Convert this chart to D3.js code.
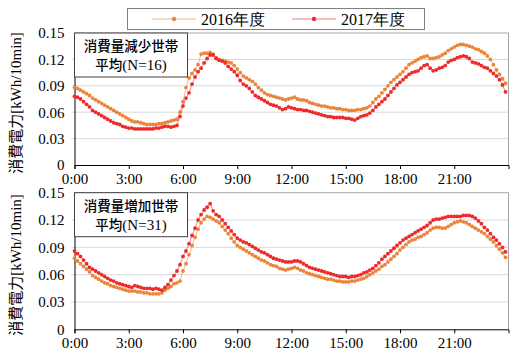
<!DOCTYPE html>
<html>
<head>
<meta charset="utf-8">
<script src="https://cdn.jsdelivr.net/npm/d3@7"></script>
<style>
  body { margin: 0; background: #fff; }
  svg { display: block; }
</style>
</head>
<body>
<div id="chart"></div>
<script>
// 10-minute steps, 0:00 .. 23:50
const seriesNames = ["2016年度", "2017年度"];
const tickLabels = ["0:00", "3:00", "6:00", "9:00", "12:00", "15:00", "18:00", "21:00"];
const yTicks = [0, 0.03, 0.06, 0.09, 0.12, 0.15];
const panelTitles = ["消費量減少世帯", "消費量増加世帯"];
const panelCounts = ["(N=16)", "(N=31)"];

// 減少世帯
const dec2016 = [
  0.088, 0.087, 0.085, 0.083, 0.081, 0.079,
  0.076, 0.074, 0.072, 0.070, 0.068, 0.066,
  0.064, 0.062, 0.060, 0.058, 0.056, 0.054,
  0.052, 0.050, 0.049, 0.049, 0.048, 0.047,
  0.046, 0.046, 0.046, 0.046, 0.047, 0.047,
  0.048, 0.049, 0.050, 0.051, 0.052, 0.060,
  0.072, 0.088, 0.099, 0.104, 0.108, 0.114,
  0.126, 0.127, 0.127, 0.128, 0.126, 0.122,
  0.120, 0.119, 0.118, 0.117, 0.116, 0.113,
  0.109, 0.105, 0.101, 0.099, 0.097, 0.095,
  0.092, 0.088, 0.085, 0.082, 0.080, 0.079,
  0.078, 0.077, 0.076, 0.075, 0.074, 0.075,
  0.076, 0.077, 0.075, 0.074, 0.074, 0.073,
  0.071, 0.070, 0.069, 0.068, 0.067, 0.067,
  0.066, 0.065, 0.065, 0.064, 0.064, 0.063,
  0.063, 0.062, 0.062, 0.062, 0.063, 0.063,
  0.064, 0.065, 0.067, 0.071, 0.075, 0.078,
  0.082, 0.086, 0.090, 0.094, 0.097, 0.100,
  0.103, 0.106, 0.110, 0.114, 0.116, 0.118,
  0.120, 0.122, 0.123, 0.124, 0.121, 0.121,
  0.122, 0.123, 0.125, 0.127, 0.130, 0.132,
  0.134, 0.136, 0.137, 0.137, 0.136, 0.135,
  0.134, 0.132, 0.131, 0.129, 0.127, 0.124,
  0.120, 0.114, 0.108, 0.103, 0.098, 0.093
];
const dec2017 = [
  0.078, 0.077, 0.075, 0.072, 0.069, 0.066,
  0.062, 0.060, 0.058, 0.056, 0.054, 0.052,
  0.050, 0.048, 0.047, 0.046, 0.044, 0.043,
  0.042, 0.042, 0.041, 0.041, 0.041, 0.041,
  0.041, 0.041, 0.041, 0.042, 0.042, 0.043,
  0.044, 0.044, 0.043, 0.044, 0.045, 0.055,
  0.067, 0.076, 0.082, 0.092, 0.100, 0.106,
  0.110, 0.116, 0.121, 0.125, 0.125, 0.121,
  0.119, 0.118, 0.116, 0.112, 0.109, 0.106,
  0.102, 0.096, 0.092, 0.090, 0.087, 0.083,
  0.079, 0.077, 0.075, 0.073, 0.071, 0.069,
  0.068, 0.067, 0.065, 0.063, 0.064, 0.066,
  0.065, 0.064, 0.063, 0.063, 0.062, 0.062,
  0.061, 0.060, 0.059, 0.058, 0.057, 0.056,
  0.055, 0.055, 0.054, 0.054, 0.054, 0.054,
  0.053, 0.053, 0.052, 0.051, 0.053, 0.055,
  0.056, 0.057, 0.059, 0.062, 0.066, 0.069,
  0.072, 0.075, 0.079, 0.083, 0.087, 0.091,
  0.094, 0.097, 0.100, 0.103, 0.105, 0.106,
  0.107, 0.110, 0.113, 0.114, 0.110, 0.107,
  0.108, 0.110, 0.111, 0.113, 0.117, 0.119,
  0.120, 0.122, 0.123, 0.124, 0.123, 0.121,
  0.117, 0.116, 0.115, 0.113, 0.111, 0.110,
  0.107, 0.104, 0.101, 0.097, 0.091, 0.083
];

// 増加世帯
const inc2016 = [
  0.078, 0.075, 0.072, 0.069, 0.066, 0.063,
  0.059, 0.057, 0.055, 0.053, 0.051, 0.050,
  0.048, 0.047, 0.046, 0.045, 0.044, 0.043,
  0.042, 0.042, 0.042, 0.041, 0.041, 0.040,
  0.040, 0.039, 0.039, 0.039, 0.039, 0.040,
  0.043, 0.045, 0.047, 0.050, 0.051, 0.053,
  0.064, 0.072, 0.082, 0.092, 0.101, 0.110,
  0.117, 0.121, 0.124, 0.123, 0.121, 0.119,
  0.117, 0.113, 0.109, 0.105, 0.100, 0.096,
  0.092, 0.090, 0.088, 0.086, 0.084, 0.082,
  0.080, 0.078, 0.076, 0.075, 0.073, 0.071,
  0.070, 0.069, 0.067, 0.066, 0.065, 0.066,
  0.067, 0.068, 0.067, 0.065, 0.064, 0.062,
  0.061, 0.060, 0.059, 0.058, 0.057, 0.056,
  0.055, 0.055, 0.054, 0.053, 0.053, 0.052,
  0.052, 0.052, 0.053, 0.053, 0.054, 0.055,
  0.056, 0.058, 0.060, 0.062, 0.064, 0.066,
  0.069, 0.071, 0.074, 0.077, 0.080, 0.083,
  0.087, 0.090, 0.093, 0.096, 0.098, 0.099,
  0.101, 0.102, 0.104, 0.106, 0.109, 0.111,
  0.112, 0.112, 0.111, 0.111, 0.113, 0.115,
  0.117, 0.118, 0.119, 0.118, 0.117, 0.115,
  0.113, 0.111, 0.109, 0.107, 0.105, 0.102,
  0.099, 0.096, 0.092, 0.088, 0.084, 0.079
];
const inc2017 = [
  0.086, 0.083, 0.080, 0.076, 0.072, 0.068,
  0.066, 0.064, 0.062, 0.060, 0.058, 0.056,
  0.054, 0.053, 0.051, 0.050, 0.049, 0.048,
  0.047, 0.046, 0.048, 0.047, 0.046, 0.045,
  0.045, 0.045, 0.044, 0.045, 0.044, 0.043,
  0.046, 0.049, 0.054, 0.059, 0.064, 0.071,
  0.080, 0.086, 0.094, 0.103, 0.111, 0.120,
  0.126, 0.131, 0.134, 0.138, 0.130, 0.126,
  0.124, 0.120, 0.116, 0.112, 0.108, 0.104,
  0.100, 0.098, 0.096, 0.095, 0.093, 0.091,
  0.089, 0.087, 0.085, 0.084, 0.082, 0.080,
  0.078, 0.077, 0.076, 0.075, 0.074, 0.074,
  0.074, 0.075, 0.075, 0.074, 0.072, 0.070,
  0.068, 0.067, 0.066, 0.065, 0.064, 0.063,
  0.062, 0.061, 0.060, 0.059, 0.058, 0.058,
  0.058, 0.057, 0.058, 0.058, 0.059, 0.060,
  0.062, 0.063, 0.065, 0.067, 0.070, 0.073,
  0.077, 0.080, 0.083, 0.086, 0.089, 0.092,
  0.095, 0.098, 0.100, 0.102, 0.104, 0.106,
  0.108, 0.110, 0.112, 0.114, 0.117, 0.120,
  0.121, 0.121, 0.122, 0.123, 0.124, 0.124,
  0.124, 0.124, 0.124, 0.125, 0.125, 0.125,
  0.124, 0.122, 0.119, 0.116, 0.112, 0.109,
  0.105, 0.101, 0.098, 0.094, 0.090, 0.085
];

const width = 510, height = 356;
const colors = ["#ec843a", "#ee2a2a"];
const lineColors = ["#f2a36b", "#f26060"];
const serif = "'Liberation Serif', serif";
const gothic = "'Noto Sans CJK JP', sans-serif";

const svg = d3.select("#chart").append("svg")
  .attr("width", width)
  .attr("height", height)
  .style("background", "#fff");

const x = d3.scaleLinear().domain([0, 144]).range([74.5, 508.5]);

function drawPanel(top, bottom, series, title, count) {
  const y = d3.scaleLinear().domain([0, 0.15]).range([bottom, top]);
  const g = svg.append("g");

  // gridlines
  g.selectAll(".grid")
    .data(yTicks.filter(d => d > 0 && d < 0.15))
    .join("line")
    .attr("x1", x.range()[0] - 3).attr("x2", x.range()[1])
    .attr("y1", d => y(d)).attr("y2", d => y(d))
    .attr("stroke", "#d9d9d9").attr("stroke-width", 1);

  // frame (top/right)
  g.append("path")
    .attr("d", `M${x.range()[0]},${top}H${x.range()[1]}V${bottom}`)
    .attr("fill", "none").attr("stroke", "#a6a6a6").attr("stroke-width", 1);

  // y axis
  const axisY = d3.axisLeft(y).tickValues(yTicks).tickSize(0).tickPadding(10)
    .tickFormat(d => d === 0 ? "0" : d3.format(".2f")(d));
  g.append("g")
    .attr("transform", `translate(${x.range()[0]},0)`)
    .call(axisY)
    .call(a => a.select(".domain").attr("stroke", "#000"))
    .call(a => a.selectAll("text").style("font-family", serif).style("font-size", "15px").attr("fill", "#000"));

  // x axis
  const axisX = d3.axisBottom(x).tickValues(d3.range(0, 144, 18)).tickSize(4).tickPadding(4)
    .tickFormat((d, i) => tickLabels[i]);
  g.append("g")
    .attr("transform", `translate(0,${bottom})`)
    .call(axisX)
    .call(a => a.select(".domain").attr("stroke", "#000"))
    .call(a => a.selectAll("line").attr("stroke", "#000"))
    .call(a => a.selectAll("text").style("font-family", serif).style("font-size", "15px").attr("fill", "#000"));

  // y title
  const yt = g.append("text")
    .attr("transform", `translate(21,${(top + bottom) / 2 + 4}) rotate(-90)`)
    .attr("text-anchor", "middle")
    .style("font-size", "15px")
    .attr("fill", "#000");
  yt.append("tspan").style("font-family", gothic).text("消費電力");
  yt.append("tspan").style("font-family", serif).text("[kWh/10min]");

  // series
  const line = d3.line().x((d, i) => x(i)).y(d => y(d));
  series.forEach((vals, s) => {
    g.append("path")
      .datum(vals)
      .attr("d", line)
      .attr("fill", "none")
      .attr("stroke", lineColors[s])
      .attr("stroke-width", 0.8);
    g.selectAll(".dot" + s)
      .data(vals)
      .join("circle")
      .attr("cx", (d, i) => x(i))
      .attr("cy", d => y(d))
      .attr("r", 1.9)
      .attr("fill", colors[s]);
  });

  // annotation box
  const bx = x.range()[0], bw = 113, bh = 44;
  g.append("rect")
    .attr("x", bx).attr("y", top)
    .attr("width", bw).attr("height", bh)
    .attr("fill", "#fff").attr("stroke", "#404040").attr("stroke-width", 1);
  g.append("text")
    .attr("x", bx + bw / 2).attr("y", top + 18)
    .attr("text-anchor", "middle")
    .style("font-family", gothic).style("font-size", "13.5px").style("font-weight", 500)
    .attr("fill", "#000")
    .text(title);
  const t2 = g.append("text")
    .attr("x", bx + bw / 2).attr("y", top + 37)
    .attr("text-anchor", "middle")
    .attr("fill", "#000");
  t2.append("tspan").style("font-family", gothic).style("font-size", "13.5px").style("font-weight", 500).text("平均");
  t2.append("tspan").style("font-family", serif).style("font-size", "15px").text(count);
}

drawPanel(33, 165, [dec2016, dec2017], panelTitles[0], panelCounts[0]);
drawPanel(192.7, 329.3, [inc2016, inc2017], panelTitles[1], panelCounts[1]);

// legend
const legend = svg.append("g");
legend.append("rect")
  .attr("x", 127.5).attr("y", 8.5).attr("width", 297).attr("height", 21)
  .attr("fill", "#fff").attr("stroke", "#808080").attr("stroke-width", 1);
const legendX = [152, 292];
seriesNames.forEach((name, s) => {
  const lx = legendX[s];
  legend.append("line")
    .attr("x1", lx).attr("x2", lx + 44).attr("y1", 19).attr("y2", 19)
    .attr("stroke", lineColors[s]).attr("stroke-width", 0.8);
  legend.append("circle")
    .attr("cx", lx + 22).attr("cy", 19).attr("r", 2.2).attr("fill", colors[s]);
  legend.append("text")
    .attr("x", lx + 49).attr("y", 24.5)
    .style("font-family", serif).style("font-size", "16px")
    .attr("fill", "#000")
    .text(name);
});
</script>
</body>
</html>
